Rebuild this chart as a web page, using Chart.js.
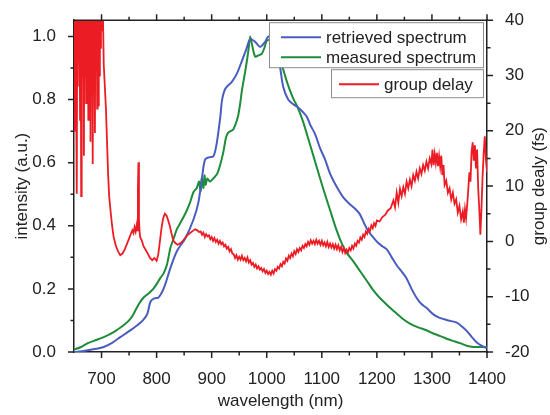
<!DOCTYPE html>
<html>
<head>
<meta charset="utf-8">
<script src="https://cdn.jsdelivr.net/npm/chart.js@4.4.1/dist/chart.umd.min.js"></script>
<style>
  html, body { margin: 0; padding: 0; background: #ffffff; }
  canvas { display: block; }
</style>
</head>
<body>
<canvas id="c" width="550" height="415"></canvas>
<script>
// ---------- data ----------
const xTicks = [700, 800, 900, 1000, 1100, 1200, 1300, 1400];
const xMinorTicks = [750, 850, 950, 1050, 1150, 1250, 1350];
const leftTicks = [0.0, 0.2, 0.4, 0.6, 0.8, 1.0];
const leftMinorTicks = [0.1, 0.3, 0.5, 0.7, 0.9];
const rightTicks = [-20, -10, 0, 10, 20, 30, 40];
const rightMinorTicks = [-15, -5, 5, 15, 25, 35];

const retrievedWl = [650,670,690,704,720,734,750,765,775,783,789,796,803,810,816,825,837,852,867,876,883,888,895,903,908,912,916,919,925,937,946,955,963,970,979,988,997,1003,1010,1018,1024,1030,1039,1048,1057,1066,1073,1079,1088,1097,1106,1115,1125,1139,1150,1160,1169,1182,1200,1210,1218,1227,1236,1245,1254,1263,1272,1281,1290,1302,1314,1330,1345,1355,1363,1372,1381,1390,1400];
const retrievedI  = [0.0,0.004,0.01,0.016,0.03,0.047,0.066,0.085,0.1,0.12,0.16,0.17,0.172,0.19,0.216,0.266,0.32,0.36,0.42,0.475,0.56,0.61,0.617,0.62,0.65,0.695,0.75,0.80,0.835,0.857,0.883,0.923,0.96,0.992,0.983,0.967,0.983,1.0,0.99,0.95,0.905,0.84,0.80,0.785,0.775,0.76,0.745,0.72,0.69,0.645,0.61,0.565,0.53,0.49,0.47,0.455,0.437,0.39,0.35,0.335,0.325,0.3,0.275,0.255,0.233,0.2,0.172,0.152,0.14,0.12,0.108,0.1,0.093,0.08,0.067,0.048,0.031,0.02,0.012];

const measuredWl = [650,662,675,690,704,722,740,750,758,767,776,785,794,800,807,813,819,825,831,837,845,852,860,867,873,877,880,882,885,887,889,892,897,903,910,915,921,926,930,939,944,948,952,955,960,964,967,970,975,979,985,991,996,1000,1007,1015,1022,1030,1036,1042,1049,1055,1066,1079,1091,1103,1115,1126,1136,1145,1157,1170,1182,1193,1205,1218,1230,1245,1260,1275,1290,1305,1320,1335,1351,1363,1375,1390,1400];
const measuredI  = [0.008,0.015,0.028,0.038,0.047,0.063,0.085,0.1,0.12,0.15,0.172,0.185,0.2,0.215,0.235,0.25,0.278,0.33,0.36,0.39,0.415,0.438,0.47,0.507,0.52,0.54,0.51,0.55,0.52,0.56,0.53,0.55,0.54,0.55,0.565,0.59,0.632,0.68,0.695,0.705,0.725,0.748,0.79,0.83,0.88,0.923,0.96,1.0,0.96,0.936,0.94,0.945,0.965,0.986,0.99,0.96,0.93,0.895,0.86,0.83,0.8,0.78,0.73,0.655,0.585,0.515,0.45,0.39,0.345,0.315,0.288,0.255,0.225,0.197,0.172,0.15,0.131,0.108,0.09,0.078,0.069,0.057,0.047,0.037,0.028,0.02,0.016,0.016,0.015];

const delayWl = [650,651,652,653,654,655,656,657,658,659,660,661,662,663,664,665,666,667,668,669,670,671,672,673,674,675,676,677,678,679,680,681,682,683,684,685,686,687,688,689,690,691,692,693,694,695,696,697,698,699,700,702,704,706,708,710,712,714,716,719,722,726,730,734,738,742,746,750,753,756,758,760,762,764,765,766,767,768,769,770,773,776,780,784,788,792,796,800,803,806,809,812,815,818,821,824,827,830,834,838,842,846,850,854,858,862,866,870,874,877,
880,882.5,885,887.5,890,892.5,895,897.5,900,902.5,905,907.5,910,912.5,915,917.5,920,922.5,925,927.5,930,932.5,935,937.5,940,942.5,945,947.5,950,952.5,955,957.5,960,962.5,965,967.5,970,972.5,975,977.5,980,982.5,985,987.5,990,992.5,995,997.5,1000,1002.5,1005,1007.5,1010,1012.5,1015,1017.5,1020,1022.5,1025,1027.5,1030,1032.5,1035,1037.5,1040,1042.5,1045,1047.5,1050,1052.5,1055,1057.5,1060,1062.5,1065,1067.5,1070,1072.5,1075,1077.5,1080,1082.5,1085,1087.5,1090,1092.5,1095,1097.5,1100,1102.5,1105,1107.5,1110,1112.5,1115,1117.5,1120,1122.5,1125,1127.5,1130,1132.5,1135,1137.5,1140,1142.5,1145,1147.5,1150,1152.5,1155,1157.5,1160,1162.5,1165,1167.5,1170,1172.5,1175,1177.5,1180,1182.5,1185,1187.5,1190,1192.5,1195,1197.5,1200,
1205,1210,1215,1220,1225,1230,1233,1236,1239,1242,1245,1248,1251,1254,1257,1260,1263,1266,1269,1272,1275,1278,1281,1284,1287,1290,1293,1296,1299,1301,1303,1305,1307,1309,1311,1313,1315,1317,1319,1321,1323,1326,1329,1332,1335,1338,1341,1344,1347,1350,1353,1356,1358,1360,1362,1364,1366,1368,1370,1372,1374,1376,1378,1380,1382,1384,1386,1388,1390,1392,1394,1396,1398,1400];
const delayFs = [20,45,30,50,25,8.6,45,28,50,35,45,22,50,8.2,45,30,50,40,15.5,48,30,50,25,45,32,50,22,46,27,50,18,45,35,50,14,45,28,50,19.6,46,33,50,24,47,24.6,50,30,48,35,50,38,45,32,28,24,18,12,8,5.9,3,0.8,-0.8,-1.8,-2.5,-2.2,-1.5,-0.5,0.5,1.3,2.0,1.5,2.6,1.8,3.0,2.0,9,14.3,4,2,0.8,0.2,-0.8,-1.5,-2.2,-3.0,-3.4,-3.0,-3.5,-2.4,0,2.5,4.2,5.0,4.7,3.8,2.8,1.5,0.2,-0.3,-0.6,-0.4,-0.1,0.4,0.9,1.3,1.6,1.9,2.2,2.0,1.7,
1.8,1.2,1.6,0.8,1.3,0.9,1.1,0.4,0.8,0.1,0.6,-0.1,0.3,-0.4,0.1,-0.5,-0.2,-0.9,-0.6,-1.3,-1.0,-1.8,-1.4,-2.2,-2.3,-3.0,-2.5,-3.3,-2.8,-3.3,-2.6,-3.4,-3.0,-3.6,-2.9,-3.8,-3.4,-4.2,-3.9,-4.6,-4.2,-4.9,-4.5,-5.1,-4.8,-5.4,-5.0,-5.7,-5.3,-5.9,-5.5,-6.0,-5.3,-5.8,-5.0,-5.3,-4.6,-4.9,-4.1,-4.5,-3.7,-4.0,-3.1,-3.5,-2.6,-3.0,-2.2,-2.7,-1.8,-2.3,-1.4,-1.9,-1.2,-1.6,-0.8,-1.2,-0.5,-0.9,-0.1,-0.6,0.2,-0.4,0.1,-0.5,0.3,-0.4,0.1,-0.6,0.1,-0.7,-0.2,-0.9,-0.1,-1.0,-0.4,-1.1,-0.5,-1.3,-0.6,-1.4,-0.7,-1.6,-1.0,-1.9,-1.2,-2.1,-1.5,-2.0,-1.2,-1.6,-0.8,-1.3,-0.4,-0.8,0.1,-0.2,0.7,0.3,1.2,0.8,1.8,1.4,2.3,1.9,2.9,2.4,3.3,2.8,3.8,
3.6,4.4,4.8,5.6,6.0,7.4,6.2,8.8,7.0,9.5,8.2,9.8,8.6,10.8,9.6,11.2,10.0,12.0,11.0,12.6,11.4,13.2,12.2,13.8,12.8,14.4,13.2,15.0,14.0,16.6,13.8,15.8,14.2,16.0,13.6,15.4,13.5,15.5,12.0,13.8,10.2,11.0,8.8,9.6,7.6,8.8,6.8,7.6,5.2,6.4,4.0,5.4,3.4,5.8,4.2,6.6,9.4,12.5,10.8,16.2,17.9,14.6,17.4,13.2,16.6,9.6,5.8,1.2,6.0,11.8,16.0,19.0,14.8,12.5];

const seriesNames = ['retrieved spectrum', 'measured spectrum', 'group delay'];
const seriesColors = ['#4a5cc0', '#1e8c3a', '#ec1c24'];

// ---------- helpers ----------
const toPts = (xs, ys) => xs.map((x, i) => ({x: x, y: ys[i]}));
const FONT = '"Liberation Sans", Arial, Helvetica, sans-serif';
const TXT = '#222222';
const AXIS = '#222222';

const tickMarks = {
  id: 'tickMarks',
  afterDatasetsDraw(chart) {
    const {ctx, chartArea: a, scales} = chart;
    ctx.save();
    ctx.strokeStyle = AXIS;
    ctx.lineWidth = 1.5;
    ctx.beginPath();
    ctx.moveTo(a.left, a.top);
    ctx.lineTo(a.right, a.top);
    ctx.stroke();
    const MAJ = 6, MIN = 3.5;
    const xs = scales.x, yl = scales.y, yr = scales.y2;
    ctx.beginPath();
    const xt = (v, len) => {
      const p = xs.getPixelForValue(v);
      ctx.moveTo(p, a.bottom); ctx.lineTo(p, a.bottom + len);
      ctx.moveTo(p, a.top); ctx.lineTo(p, a.top - len);
    };
    xTicks.forEach(v => xt(v, MAJ));
    xMinorTicks.forEach(v => xt(v, MIN));
    const ylt = (v, len) => {
      const p = yl.getPixelForValue(v);
      ctx.moveTo(a.left, p); ctx.lineTo(a.left - len, p);
    };
    leftTicks.forEach(v => ylt(v, MAJ));
    leftMinorTicks.forEach(v => ylt(v, MIN));
    const yrt = (v, len) => {
      const p = yr.getPixelForValue(v);
      ctx.moveTo(a.right, p); ctx.lineTo(a.right + len, p);
    };
    rightTicks.forEach(v => yrt(v, MAJ));
    rightMinorTicks.forEach(v => yrt(v, MIN));
    ctx.stroke();

    ctx.fillStyle = TXT;
    ctx.font = '17px ' + FONT;
    ctx.textAlign = 'center';
    ctx.textBaseline = 'middle';
    ctx.translate(539, (a.top + a.bottom) / 2);
    ctx.rotate(-Math.PI / 2);
    ctx.fillText('group dealy (fs)', 0, 0);
    ctx.restore();
  }
};

const boxLegend = {
  id: 'boxLegend',
  afterDatasetsDraw(chart) {
    const {ctx, chartArea: a} = chart;
    ctx.save();
    const R = a.right - 4;
    const boxes = [
      {x: a.left + 195, y: a.top + 2, w: R - (a.left + 195), h: 45},
      {x: a.left + 257, y: a.top + 49, w: R - (a.left + 257), h: 28}
    ];
    boxes.forEach(b => {
      ctx.fillStyle = '#ffffff';
      ctx.fillRect(b.x, b.y, b.w, b.h);
      ctx.strokeStyle = '#8c8c8c';
      ctx.lineWidth = 1;
      ctx.strokeRect(b.x + 0.5, b.y + 0.5, b.w, b.h);
    });
    const items = [
      {x0: boxes[0].x + 12, y: boxes[0].y + 15, i: 0},
      {x0: boxes[0].x + 12, y: boxes[0].y + 35, i: 1},
      {x0: boxes[1].x + 8, y: boxes[1].y + 15, i: 2}
    ];
    ctx.font = '17px ' + FONT;
    ctx.textAlign = 'left';
    ctx.textBaseline = 'middle';
    items.forEach(it => {
      ctx.strokeStyle = seriesColors[it.i];
      ctx.lineWidth = 2;
      ctx.beginPath();
      ctx.moveTo(it.x0, it.y);
      ctx.lineTo(it.x0 + 40, it.y);
      ctx.stroke();
      ctx.fillStyle = TXT;
      ctx.fillText(seriesNames[it.i], it.x0 + 45, it.y + 1);
    });
    ctx.restore();
  }
};

new Chart(document.getElementById('c'), {
  type: 'line',
  data: {
    datasets: [
      {label: seriesNames[2], data: toPts(delayWl, delayFs), yAxisID: 'y2', borderColor: seriesColors[2], borderWidth: 1.8, pointRadius: 0, tension: 0},
      {label: seriesNames[0], data: toPts(retrievedWl, retrievedI), yAxisID: 'y', borderColor: seriesColors[0], borderWidth: 2, pointRadius: 0, tension: 0.3},
      {label: seriesNames[1], data: toPts(measuredWl, measuredI), yAxisID: 'y', borderColor: seriesColors[1], borderWidth: 2, pointRadius: 0, tension: 0.2}
    ]
  },
  options: {
    responsive: false,
    animation: false,
    devicePixelRatio: 1,
    layout: {padding: {top: 16, left: 0, right: 0, bottom: 0}},
    plugins: {legend: {display: false}, tooltip: {enabled: false}},
    scales: {
      x: {
        type: 'linear', position: 'bottom', min: 650, max: 1400,
        afterFit(s) { s.height = 63; },
        afterBuildTicks(s) { s.ticks = xTicks.map(v => ({value: v})); },
        grid: {display: false},
        border: {display: true, color: AXIS, width: 1.5},
        ticks: {color: TXT, font: {family: FONT, size: 17}, padding: 9, maxRotation: 0, autoSkip: false, callback: v => String(v)},
        title: {display: true, text: 'wavelength (nm)', color: TXT, font: {family: FONT, size: 17}, padding: {top: 0, bottom: 3}}
      },
      y: {
        type: 'linear', position: 'left', min: 0, max: 1.0516,
        afterFit(s) { s.width = 74; },
        afterBuildTicks(s) { s.ticks = leftTicks.map(v => ({value: v})); },
        grid: {display: false},
        border: {display: true, color: AXIS, width: 1.5},
        ticks: {color: TXT, font: {family: FONT, size: 17}, padding: 10, autoSkip: false, callback: v => Number(v).toFixed(1)},
        title: {display: true, text: 'intensity (a.u.)', color: TXT, font: {family: FONT, size: 17}, padding: {top: 12, bottom: 0}}
      },
      y2: {
        type: 'linear', position: 'right', min: -20, max: 40,
        afterFit(s) { s.width = 63; },
        afterBuildTicks(s) { s.ticks = rightTicks.map(v => ({value: v})); },
        grid: {display: false},
        border: {display: true, color: AXIS, width: 1.5},
        ticks: {color: TXT, font: {family: FONT, size: 17}, padding: 10, autoSkip: false, callback: v => String(v)},
        title: {display: false}
      }
    }
  },
  plugins: [tickMarks, boxLegend]
});
</script>
</body>
</html>
